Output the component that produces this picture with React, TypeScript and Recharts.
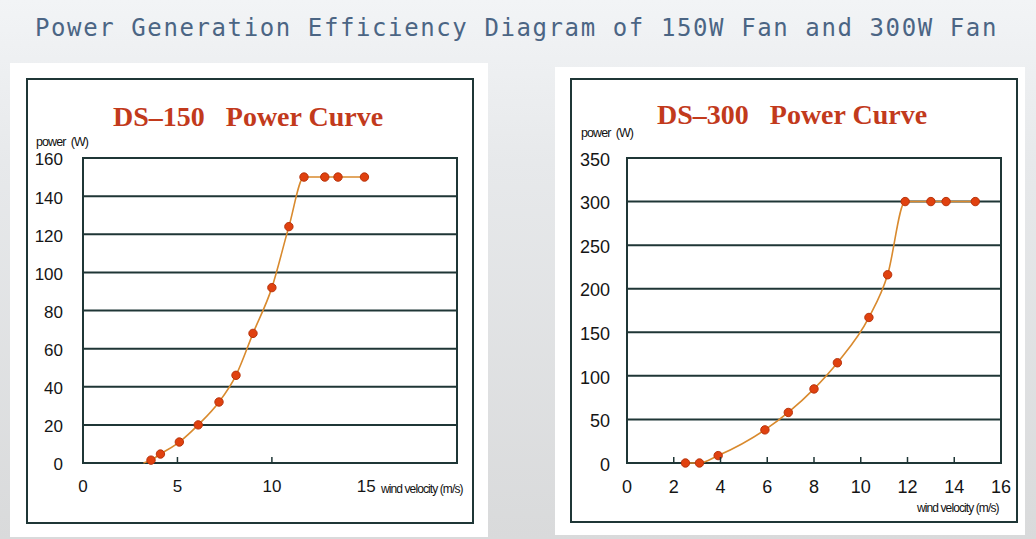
import React from 'react';
import { LineChart, Line, XAxis, YAxis, CartesianGrid, ReferenceArea } from 'recharts';

// DS-150 curve (first point is the lead-in on the axis, drawn without a dot)
const velocity150 = [3.2, 3.6, 4.1, 5.1, 6.1, 7.2, 8.1, 9.0, 10.0, 10.9, 11.7, 12.8, 13.5, 14.9];
const power150 = [0, 1.5, 4.7, 11, 20, 32, 46, 68, 92, 124, 150, 150, 150, 150];
const xTicks150 = [0, 5, 10, 15];
const xMarks150 = [5, 10];
const yTicks150 = [0, 20, 40, 60, 80, 100, 120, 140, 160];

// DS-300 curve
const velocity300 = [2.5, 3.1, 3.9, 5.9, 6.9, 8.0, 9.0, 10.35, 11.15, 11.9, 13.0, 13.65, 14.9];
const power300 = [0, 0, 8.5, 38, 58, 85, 115, 167, 216, 300, 300, 300, 300];
const xTicks300 = [0, 2, 4, 6, 8, 10, 12, 14, 16];
const xMarks300 = [2, 4, 6, 8, 10, 12, 14];
const yTicks300 = [0, 50, 100, 150, 200, 250, 300, 350];

const data150 = velocity150.map((v, i) => ({ v, p: power150[i], lead: i === 0 }));
const data300 = velocity300.map((v, i) => ({ v, p: power300[i], lead: false }));

const GRID = '#1f3636';
const LINE = '#d98a2e';
const DOT = '#e0410f';
const TICK_FONT = '"Liberation Sans", Arial, sans-serif';

const XTick = (props: any) => {
  const { x, y, payload, marks, fontSize } = props;
  return (
    <g>
      {marks.includes(payload.value) && (
        <line x1={x} x2={x} y1={y} y2={y - 6} stroke={GRID} strokeWidth={1.5} />
      )}
      <text x={x} y={y + 25} textAnchor="middle" dominantBaseline="middle"
        fontFamily={TICK_FONT} fontSize={fontSize} fill="#151515">
        {payload.value}
      </text>
    </g>
  );
};

const YTick = (props: any) => {
  const { x, y, payload, gap, fontSize } = props;
  return (
    <text x={x - gap} y={y + 3} textAnchor="end" dominantBaseline="middle"
      fontFamily={TICK_FONT} fontSize={fontSize} fill="#151515">
      {payload.value}
    </text>
  );
};

const Dot = (props: any) => {
  const { cx, cy, payload } = props;
  if (payload.lead) return <g />;
  return <circle cx={cx} cy={cy} r={4.2} fill={DOT} stroke="#b8330c" strokeWidth={1} />;
};

const chartTitle: React.CSSProperties = {
  position: 'absolute', whiteSpace: 'pre', fontFamily: '"Liberation Serif", "Times New Roman", serif',
  fontWeight: 'bold', fontSize: 28, color: '#c23a1c', lineHeight: '28px',
};
const smallLabel: React.CSSProperties = {
  position: 'absolute', whiteSpace: 'pre', fontFamily: '"Liberation Sans", Arial, sans-serif',
  fontSize: 12.5, letterSpacing: -0.9, color: '#111', lineHeight: '14px',
};

export default function App() {
  return (
    <div style={{
      position: 'absolute', left: 0, top: 0, width: 1036, height: 539, overflow: 'hidden',
      background: 'linear-gradient(to bottom, #f2f4f6 0%, #e7e9eb 30%, #d9dadb 100%)',
    }}>
      <div style={{
        position: 'absolute', left: 35, top: 12, whiteSpace: 'pre', fontFamily: '"DejaVu Sans Mono", monospace',
        fontSize: 24, letterSpacing: 1.6, color: '#4b6584', lineHeight: '32px',
      }}>
        Power Generation Efficiency Diagram of 150W Fan and 300W Fan
      </div>

      {/* panels */}
      <div style={{ position: 'absolute', left: 10, top: 63, width: 478, height: 474, background: '#fff' }} />
      <div style={{ position: 'absolute', left: 555, top: 67, width: 470, height: 468, background: '#fff' }} />
      <div style={{ position: 'absolute', left: 26, top: 78, width: 444, height: 442, border: `2px solid ${GRID}` }} />
      <div style={{ position: 'absolute', left: 570, top: 78, width: 444, height: 441, border: `2px solid ${GRID}` }} />

      <div style={{ ...chartTitle, left: 113, top: 103 }}>DS–150   Power Curve</div>
      <div style={{ ...chartTitle, left: 657, top: 101 }}>DS–300   Power Curve</div>
      <div style={{ ...smallLabel, left: 36, top: 135 }}>power  (W)</div>
      <div style={{ ...smallLabel, left: 581, top: 126 }}>power  (W)</div>
      <div style={{ ...smallLabel, left: 381, top: 482, fontSize: 12 }}>wind velocity (m/s)</div>
      <div style={{ ...smallLabel, left: 917, top: 501, fontSize: 12 }}>wind velocity (m/s)</div>

      <div style={{ position: 'absolute', left: 0, top: 0 }}>
        <LineChart width={480} height={539} data={data150}
          margin={{ top: 158, right: 23, bottom: 46, left: 0 }}>
          <CartesianGrid horizontal vertical={false} stroke={GRID} strokeWidth={2} />
          <ReferenceArea x1={0} x2={19.8} y1={0} y2={160} fill="none" stroke={GRID} strokeWidth={2} />
          <XAxis dataKey="v" type="number" domain={[0, 19.8]} ticks={xTicks150} height={30}
            axisLine={false} tickLine={false} tickSize={0} tickMargin={0}
            tick={<XTick marks={xMarks150} fontSize={17} />} />
          <YAxis type="number" domain={[0, 160]} ticks={yTicks150} width={83}
            axisLine={false} tickLine={false} tickSize={0} tickMargin={0}
            tick={<YTick gap={20} fontSize={17} />} />
          <Line dataKey="p" type="monotone" stroke={LINE} strokeWidth={1.6}
            dot={<Dot />} isAnimationActive={false} />
        </LineChart>
      </div>

      <div style={{ position: 'absolute', left: 540, top: 0 }}>
        <LineChart width={480} height={539} data={data300}
          margin={{ top: 158, right: 19, bottom: 46, left: 0 }}>
          <CartesianGrid horizontal vertical={false} stroke={GRID} strokeWidth={2} />
          <ReferenceArea x1={0} x2={16} y1={0} y2={350} fill="none" stroke={GRID} strokeWidth={2} />
          <XAxis dataKey="v" type="number" domain={[0, 16]} ticks={xTicks300} height={30}
            axisLine={false} tickLine={false} tickSize={0} tickMargin={0}
            tick={<XTick marks={xMarks300} fontSize={18} />} />
          <YAxis type="number" domain={[0, 350]} ticks={yTicks300} width={87}
            axisLine={false} tickLine={false} tickSize={0} tickMargin={0}
            tick={<YTick gap={17} fontSize={18} />} />
          <Line dataKey="p" type="monotone" stroke={LINE} strokeWidth={1.6}
            dot={<Dot />} isAnimationActive={false} />
        </LineChart>
      </div>
    </div>
  );
}
